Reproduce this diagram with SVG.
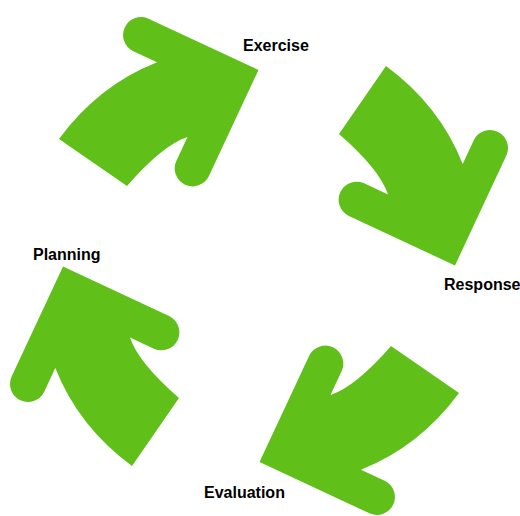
<svg xmlns="http://www.w3.org/2000/svg" xmlns:xlink="http://www.w3.org/1999/xlink" width="520" height="516" viewBox="0 0 520 516">
<style>
.arrow{fill:#61bf1a;stroke:none}
.label{font-family:"Liberation Sans",Arial,sans-serif;font-size:16px;font-weight:bold;fill:#000}
</style>
<defs>
<path id="arrow" class="arrow" d="M258.5,70 L148,18.4 A18,18 0 0 0 132.8,51 L157,62.3 Q98.4,85.4 59,139 L127,186 Q162.5,145.2 187.5,137 L176.1,161.4 A18,18 0 0 0 208.7,176.6 Z"/>
</defs>
<rect width="520" height="516" fill="#fff"/>
<g id="connectors">
<use xlink:href="#arrow" href="#arrow"/>
<use xlink:href="#arrow" href="#arrow" transform="rotate(90 259 266)"/>
<use xlink:href="#arrow" href="#arrow" transform="rotate(180 259 266)"/>
<use xlink:href="#arrow" href="#arrow" transform="rotate(270 259 266)"/>
</g>
<g id="exercise"><text class="label" x="243" y="51">Exercise</text></g>
<g id="response"><text class="label" x="444" y="290">Response</text></g>
<g id="evaluation"><text class="label" x="204" y="498">Evaluation</text></g>
<g id="planning"><text class="label" x="33" y="260">Planning</text></g>
</svg>
